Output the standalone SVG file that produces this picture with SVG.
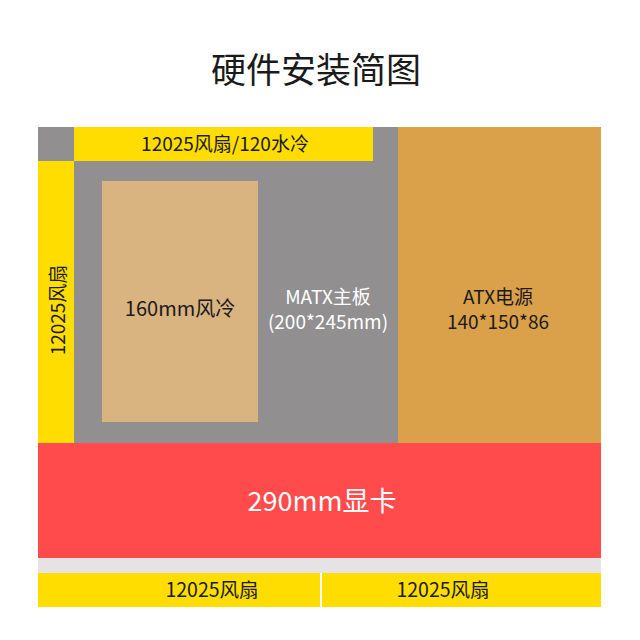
<svg xmlns="http://www.w3.org/2000/svg" width="640" height="640" viewBox="0 0 640 640">
<style>
text{font-family:"Noto Sans CJK SC","Noto Sans",sans-serif;text-anchor:middle}
.d{fill:#1a1a1a}
.w{fill:#ffffff}
</style>
<rect width="640" height="640" fill="#ffffff"/>
<text x="316" y="83" font-size="35" class="d">硬件安装简图</text>
<g id="board-area"><rect x="38" y="127" width="360" height="316" fill="#918f90"/></g>
<g id="top-fan"><rect x="74" y="127" width="299" height="34" fill="#ffdd00"/><text x="225" y="151" font-size="19" class="d">12025风扇/120水冷</text></g>
<g id="left-fan"><rect x="38" y="161" width="36" height="282" fill="#ffdd00"/><text transform="translate(65,310) rotate(-90)" font-size="19" class="d">12025风扇</text></g>
<g id="psu"><rect x="398" y="127" width="203" height="316" fill="#dba04a"/><text x="498" y="304" font-size="19" class="d">ATX电源</text><text x="498" y="329" font-size="19" class="d">140*150*86</text></g>
<g id="cooler"><rect x="102" y="181" width="156" height="241" fill="#d9b380"/><text x="180" y="316" font-size="20" class="d">160mm风冷</text></g>
<g id="mb"><text x="328" y="304" font-size="19" class="w">MATX主板</text><text x="328" y="329" font-size="19" class="w">(200*245mm)</text></g>
<g id="gpu"><rect x="38" y="443" width="563" height="115" fill="#ff4b4b"/><text x="322" y="511" font-size="27" class="w">290mm显卡</text></g>
<g id="strip"><rect x="38" y="558" width="563" height="15" fill="#e5e3e4"/></g>
<g id="fan-b1"><rect x="38" y="573" width="282" height="34" fill="#ffdd00"/><text x="212" y="597" font-size="19.5" class="d">12025风扇</text></g>
<g id="fan-b2"><rect x="322" y="573" width="279" height="34" fill="#ffdd00"/><text x="443" y="597" font-size="19.5" class="d">12025风扇</text></g>
<g id="connectors"></g>
</svg>
